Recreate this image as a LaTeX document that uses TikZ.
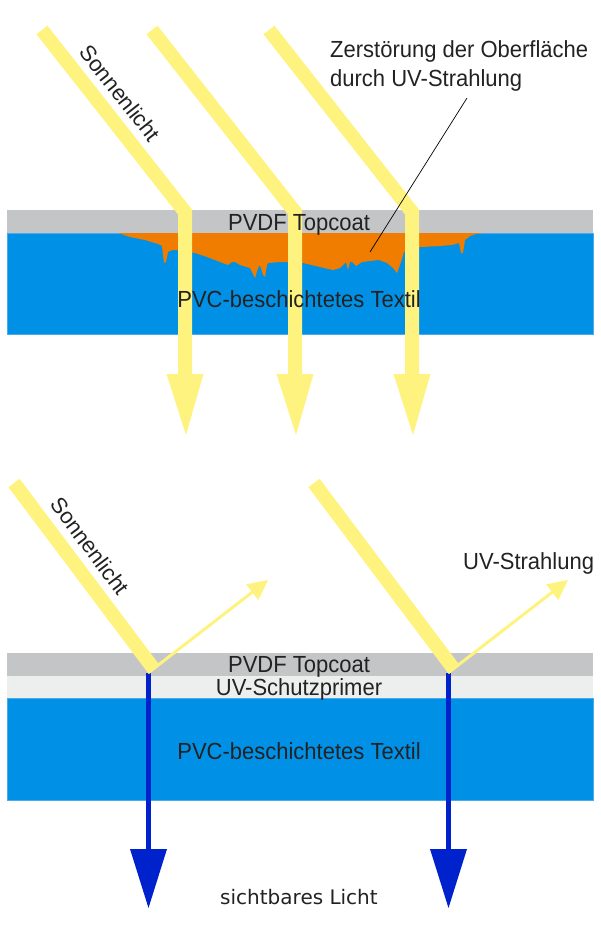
\documentclass[tikz,border=0pt]{standalone}
\usepackage{fontspec}
\setmainfont{Liberation Sans}
\newfontfamily\dejavufont{DejaVu Sans}
\usetikzlibrary{calc}
\definecolor{sunyellow}{HTML}{FFF380}
\definecolor{pvcblue}{HTML}{0091E6}
\definecolor{pvcedge}{HTML}{4AAAEA}
\definecolor{topgray}{HTML}{C4C5C7}
\definecolor{primergray}{HTML}{EDEEEE}
\definecolor{damage}{HTML}{F07D00}
\definecolor{visblue}{HTML}{0022CC}
\definecolor{txt}{HTML}{222222}
\begin{document}
\begin{tikzpicture}[x=1pt,y=-1pt,
  lbl/.style={font=\fontsize{22}{26}\selectfont, text=txt, inner sep=0pt},
  flat/.style={lbl, yscale=1.06},
  raybeam/.style={draw=sunyellow, line width=14pt, line join=miter, miter limit=10, line cap=butt},
  reflbeam/.style={draw=sunyellow, line width=3pt},
  visbeam/.style={draw=visblue, line width=5.5pt},
  pvcband/.style={fill=pvcblue, draw=pvcedge, line width=0.8pt},
  leader/.style={draw=black, line width=0.7pt}]
\useasboundingbox (0,0) rectangle (600,933);
% ---------- top panel layers ----------
\path[pvcband] (7,233) rectangle (593,334);
\fill[damage] (118,233) -- (130,237) -- (145,240) -- (158,244) -- (162,246) -- (164,263) -- (166,262)
  -- (168,252) -- (172,250) -- (178,250) -- (195,253) -- (207,257) -- (220,262) -- (228,265)
  -- (232,262) -- (235,262) -- (240,265) -- (250,268) -- (255,278) -- (258,268) -- (260,265)
  -- (263,275) -- (265,277) -- (267,265) -- (268,263) -- (280,262) -- (290,262) -- (303,263)
  -- (320,267) -- (333,270) -- (340,268) -- (346,262) -- (348,270) -- (350,262) -- (352,262)
  -- (356,266) -- (362,262) -- (379,260) -- (387,263) -- (393,268) -- (397,273) -- (401,262)
  -- (404,252) -- (412,246) -- (421,247) -- (440,246) -- (452,245) -- (459,243) -- (461,253)
  -- (463,253) -- (465,240) -- (470,236) -- (476,234) -- (484,233) -- cycle;
\fill[topgray] (7,210) rectangle (593,233);
% ---------- top panel rays ----------
\foreach \X/\n in {185/1,295/2,412/3}{
  \coordinate (s\n) at (\X-143,30);
  \coordinate (b\n) at (\X,212);
  \coordinate (e\n) at (\X,376);
  \draw[raybeam] (s\n) -- (b\n) -- (e\n);
  \fill[sunyellow] (\X-18.5,374) -- (\X+18.5,374) -- (\X+1,435) -- cycle;
}
% ---------- top panel texts ----------
\node[lbl, rotate=-51.8] (sun1) at (120,93) {Sonnenlicht};
\node[flat, anchor=base] (pvdf1) at (299,230) {PVDF Topcoat};
\node[flat, anchor=base] (pvc1) at (299,307) {PVC-beschichtetes Textil};
\node[flat, anchor=base west] (zer1) at (330,58) {Zerstörung der Oberfläche};
\node[flat, anchor=base west] (zer2) at (330,87) {durch UV-Strahlung};
\coordinate (lead1) at (467,98);
\coordinate (lead2) at (370,252);
\draw[leader] (lead1) -- (lead2);
% ---------- bottom panel layers ----------
\fill[topgray] (7,653) rectangle (593,676);
\fill[primergray] (7,676) rectangle (593,698);
\path[pvcband] (7,698) rectangle (593,800);
% ---------- bottom panel beams ----------
\foreach \X/\n in {148/A,448/B}{
  \coordinate (p\n) at (\X,673);
  \coordinate (r\n) at (\X+5.6-139.6,668.8-185.8);
  \coordinate (q\n) at (\X+5.6,668.8);
  \coordinate (t\n) at (\X+120,580);
  \coordinate (v\n) at (\X+0.5,851);
  \draw[visbeam] (\X+0.5,673) -- (v\n);
  \fill[visblue] (\X+0.5-18.5,849) -- (\X+0.5+18.5,849) -- (\X+0.5,908) -- cycle;
  \draw[raybeam] (r\n) -- (q\n);
  \coordinate (h\n) at ($(t\n)!20pt!(p\n)$);
  \draw[reflbeam] (p\n) -- ($(t\n)!18pt!(p\n)$);
  \fill[sunyellow] (t\n) -- ($(h\n)!10pt!90:(t\n)$) -- ($(h\n)!10pt!-90:(t\n)$) -- cycle;
}
% ---------- bottom panel texts ----------
\node[lbl, rotate=-53.1] (sun2) at (90,546) {Sonnenlicht};
\node[flat, anchor=base] (pvdf2) at (299,672) {PVDF Topcoat};
\node[flat, anchor=base] (prim) at (299,695) {UV-Schutzprimer};
\node[flat, anchor=base] (pvc2) at (299,759) {PVC-beschichtetes Textil};
\node[flat, anchor=base west] (uvs) at (463,569) {UV-Strahlung};
\node[lbl, font=\dejavufont\fontsize{20}{24}\selectfont, anchor=base] (vis) at (299,904) {sichtbares Licht};
\end{tikzpicture}
\end{document}
